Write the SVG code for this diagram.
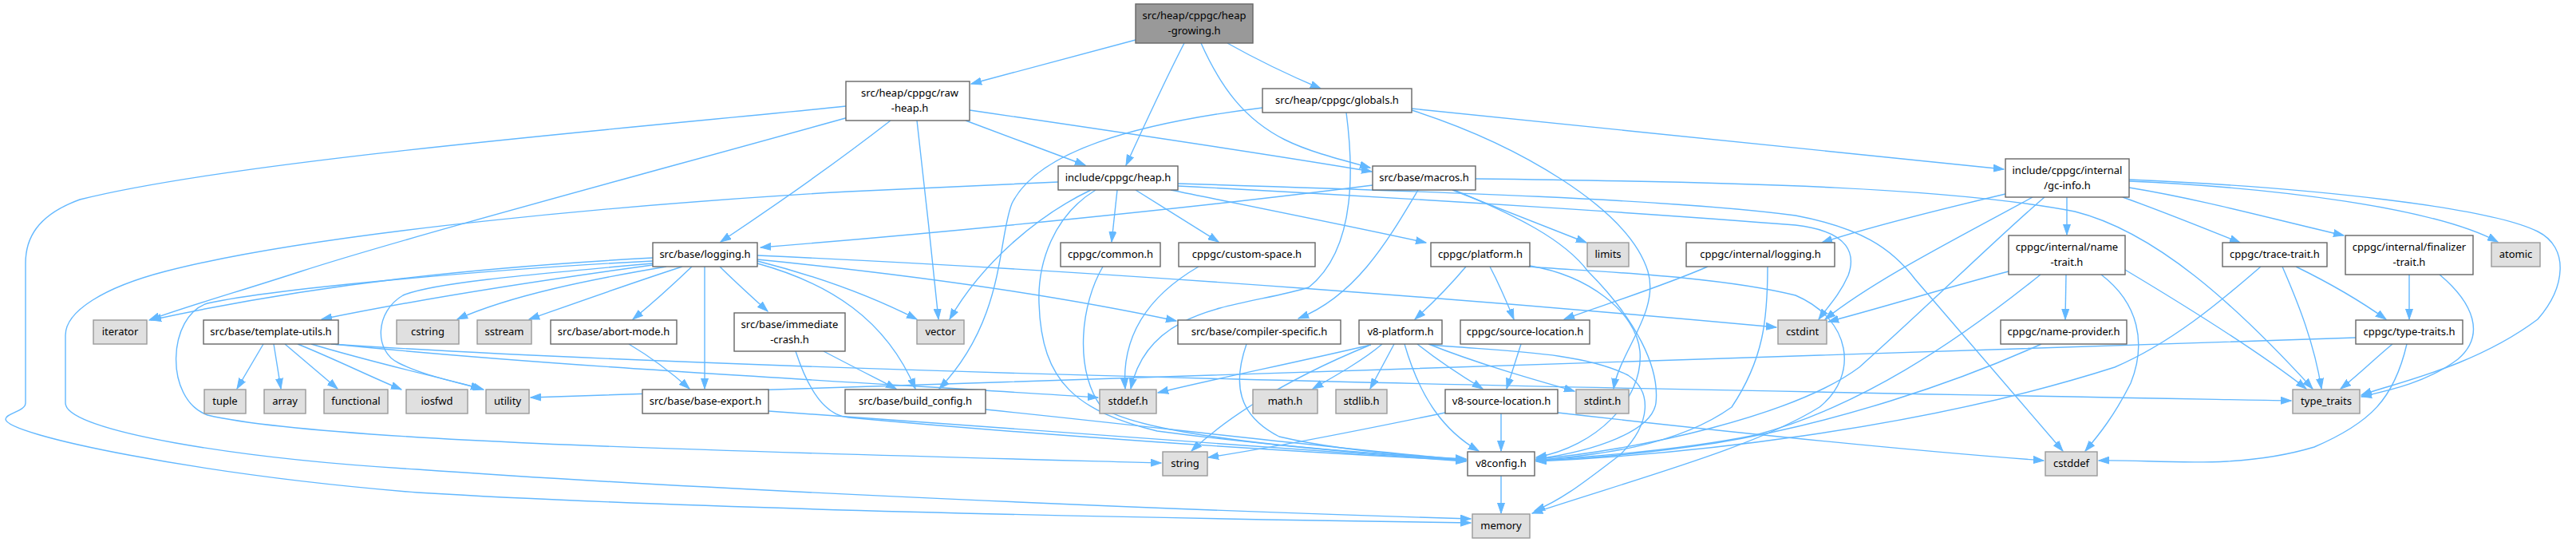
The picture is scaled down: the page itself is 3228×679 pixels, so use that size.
<svg xmlns="http://www.w3.org/2000/svg" width="3228" height="679" viewBox="0 0 3228 679">
<style>
rect{stroke-width:1.4}
.w{fill:#ffffff;stroke:#666666}
.g{fill:#e0e0e0;stroke:#999999}
.r{fill:#999999;stroke:#666666}
text{font-family:"Noto Sans","DejaVu Sans",sans-serif;font-size:13px;fill:#000000;text-anchor:middle}
#edges path{fill:none;stroke:#63b8ff;stroke-width:1.4;marker-end:url(#arr)}
</style>
<defs>
<marker id="arr" viewBox="0 0 14 10" refX="13" refY="5" markerWidth="14" markerHeight="10" orient="auto" markerUnits="userSpaceOnUse"><path d="M0,0.5 L13,5 L0,9.5 Z" fill="#63b8ff" stroke="#63b8ff" stroke-width="1"/></marker>
</defs>
<rect width="3228" height="679" fill="#ffffff"/>
<g id="edges">
<path d="M1423,50 C1350,70 1280,88 1217,105"/>
<path d="M1484,54 C1460,100 1435,155 1411,207"/>
<path d="M1505,54 C1530,110 1560,150 1610,175 C1640,190 1680,200 1717,210"/>
<path d="M1538,54 C1570,72 1615,94 1655,111"/>
<path d="M1060,133 C800,160 300,200 100,250 C45,270 32,300 32,330 L32,505 C32,515 7,518 7,525 C7,545 250,595 523,617 C900,640 1500,650 1843,655"/>
<path d="M1063,147 C800,220 500,300 377,340 C300,365 230,385 187,401"/>
<path d="M1149,151 C1158,230 1168,320 1176,400"/>
<path d="M1210,151 C1260,170 1310,188 1360,207"/>
<path d="M1116,151 C1040,210 960,265 903,303"/>
<path d="M1215,138 C1400,165 1600,195 1719,215"/>
<path d="M1769,136 L2511,212"/>
<path d="M1769,138 C1900,180 2040,260 2065,340 C2080,390 2030,440 2022,487"/>
<path d="M1582,135 C1420,155 1300,190 1268,255 C1250,300 1260,400 1177,487"/>
<path d="M1687,141 C1700,240 1690,320 1640,360 C1560,385 1440,380 1417,487"/>
<path d="M1400,238 L1393,303"/>
<path d="M1423,238 L1527,303"/>
<path d="M1467,238 C1600,265 1700,285 1787,304"/>
<path d="M1367,238 C1300,270 1230,330 1190,400"/>
<path d="M1373,238 C1320,270 1300,330 1302,380 C1305,480 1350,515 1450,540 C1600,560 1750,570 1837,577"/>
<path d="M1326,228 L1063,240 C800,255 400,290 207,340 C130,360 82,390 82,420 L82,505 C82,540 300,575 523,588 C900,615 1500,640 1843,650"/>
<path d="M1476,230 C1800,240 2100,250 2250,270 C2330,285 2370,310 2400,350 L2585,565"/>
<path d="M1476,233 C1800,250 2100,270 2250,282 C2320,290 2325,320 2316,345 C2305,370 2290,385 2279,400"/>
<path d="M1720,232 C1500,260 1200,290 953,310"/>
<path d="M1777,238 C1740,300 1700,370 1627,399"/>
<path d="M1820,238 C1880,262 1940,285 1988,304"/>
<path d="M1822,238 C1900,270 1960,300 1990,340 C2050,400 2080,460 2075,505 C2070,540 2000,565 1925,575"/>
<path d="M1849,224 C2200,228 2450,236 2600,265 C2700,290 2800,380 2898,487"/>
<path d="M1837,334 C1815,360 1795,380 1773,400"/>
<path d="M1867,334 C1878,355 1888,378 1897,400"/>
<path d="M1917,333 C1990,345 2050,390 2055,440 C2060,500 2000,560 1925,573"/>
<path d="M1915,334 C1990,340 2150,345 2250,370 C2320,400 2330,470 2280,510 C2200,560 2050,600 1920,643"/>
<path d="M2140,334 C2080,360 2000,385 1960,400"/>
<path d="M2215,334 C2215,400 2210,450 2170,510 C2100,560 2000,570 1925,577"/>
<path d="M2668,227 C2850,235 3050,260 3130,303"/>
<path d="M2668,225 C2900,235 3120,260 3180,290 C3220,310 3215,360 3180,400 C3100,460 3000,480 2959,495"/>
<path d="M2668,235 C2760,250 2850,275 2937,295"/>
<path d="M2660,247 C2710,265 2760,285 2807,304"/>
<path d="M2590,247 L2590,294"/>
<path d="M2513,243 C2420,265 2340,285 2283,304"/>
<path d="M2547,247 C2450,300 2350,350 2287,400"/>
<path d="M2562,247 C2500,300 2420,380 2330,460 C2250,520 2050,565 1925,575"/>
<path d="M2589,344 L2588,400"/>
<path d="M2517,340 C2440,360 2360,385 2291,403"/>
<path d="M2633,344 C2680,380 2690,430 2670,480 C2650,520 2630,545 2613,565"/>
<path d="M2663,338 C2750,390 2830,440 2890,487"/>
<path d="M2557,344 C2450,430 2330,510 2200,545 C2100,565 2000,572 1925,576"/>
<path d="M2877,334 C2920,355 2955,375 2990,400"/>
<path d="M2860,334 C2880,380 2900,430 2909,487"/>
<path d="M2833,334 C2780,380 2720,430 2650,460 C2400,540 2100,570 1925,578"/>
<path d="M3019,344 L3019,400"/>
<path d="M3057,344 C3100,380 3115,420 3080,450 C3040,480 2990,490 2959,497"/>
<path d="M2998,431 C2975,450 2955,470 2933,487"/>
<path d="M3016,431 C3000,500 2970,530 2900,560 C2800,590 2700,575 2630,577"/>
<path d="M2952,423 C2500,440 1500,470 665,498"/>
<path d="M2558,431 C2450,480 2300,530 2150,555 C2050,570 1980,575 1925,577"/>
<path d="M1906,431 L1888,487"/>
<path d="M1732,431 C1710,450 1675,470 1645,487"/>
<path d="M1747,431 L1717,487"/>
<path d="M1718,432 C1620,455 1520,475 1451,492"/>
<path d="M1715,433 C1600,480 1530,530 1493,565"/>
<path d="M1760,431 C1780,500 1810,540 1853,565"/>
<path d="M1776,431 C1800,450 1830,470 1858,487"/>
<path d="M1790,431 C1850,455 1920,475 1973,490"/>
<path d="M1793,432 C1880,440 1980,440 2040,470 C2070,490 2070,530 2030,570 C1990,600 1960,625 1923,640"/>
<path d="M1881,518 L1881,565"/>
<path d="M1811,517 C1700,540 1600,560 1514,573"/>
<path d="M1952,517 C2200,545 2400,565 2561,577"/>
<path d="M1881,596 L1881,643"/>
<path d="M818,323 C600,335 400,355 189,401"/>
<path d="M818,332 C650,355 500,380 403,400"/>
<path d="M835,334 C740,350 640,370 573,400"/>
<path d="M855,334 C790,355 720,380 663,400"/>
<path d="M867,334 C845,355 820,378 793,400"/>
<path d="M902,334 C920,352 940,370 962,390"/>
<path d="M883,334 L883,487"/>
<path d="M949,330 C1040,355 1110,400 1147,487"/>
<path d="M949,327 C1020,345 1090,370 1149,400"/>
<path d="M949,325 C1100,340 1300,365 1474,402"/>
<path d="M949,320 C1400,340 1900,380 2226,410"/>
<path d="M818,327 C650,335 350,360 260,380 C210,395 205,500 260,520 C400,553 900,565 1455,580"/>
<path d="M818,330 C650,345 540,355 505,370 C470,390 468,440 500,455 C530,470 570,478 606,488"/>
<path d="M330,431 L297,487"/>
<path d="M343,431 L352,487"/>
<path d="M357,431 L423,487"/>
<path d="M373,431 C420,450 460,470 503,488"/>
<path d="M390,431 C470,455 540,470 603,487"/>
<path d="M417,431 C700,460 1100,480 1376,498"/>
<path d="M415,431 C1000,470 2200,490 2871,502"/>
<path d="M788,431 C820,450 845,470 864,487"/>
<path d="M1032,440 C1070,460 1100,475 1123,487"/>
<path d="M997,440 C1010,480 1030,520 1063,523 C1300,545 1600,565 1837,577"/>
<path d="M963,515 C1300,540 1600,560 1837,578"/>
<path d="M1235,513 C1450,535 1650,560 1837,576"/>
<path d="M1562,431 C1545,480 1550,520 1603,547 C1680,565 1780,572 1837,575"/>
<path d="M1382,334 C1355,380 1345,460 1380,510 C1430,545 1650,565 1837,576"/>
<path d="M1502,334 C1440,370 1405,420 1410,487"/>
</g>
<g id="n1"><rect class="r" x="1423" y="5" width="147" height="49"/><text x="1496.5" y="23.5">src/heap/cppgc/heap</text><text x="1496.5" y="42.5">-growing.h</text></g>
<g id="n2"><rect class="w" x="1060" y="102" width="155" height="49"/><text x="1140" y="120.5">src/heap/cppgc/raw</text><text x="1140" y="139.5">-heap.h</text></g>
<g id="n3"><rect class="w" x="1582" y="111" width="187" height="30"/><text x="1675.5" y="130">src/heap/cppgc/globals.h</text></g>
<g id="n4"><rect class="w" x="1326" y="208" width="150" height="30"/><text x="1401" y="227">include/cppgc/heap.h</text></g>
<g id="n5"><rect class="w" x="1720" y="208" width="129" height="30"/><text x="1784.5" y="227">src/base/macros.h</text></g>
<g id="n6"><rect class="w" x="2513" y="199" width="155" height="48"/><text x="2590.5" y="217.5">include/cppgc/internal</text><text x="2590.5" y="236.5">/gc-info.h</text></g>
<g id="n7"><rect class="w" x="818" y="304" width="131" height="30"/><text x="883.5" y="323">src/base/logging.h</text></g>
<g id="n8"><rect class="w" x="1329" y="304" width="125" height="30"/><text x="1391.5" y="323">cppgc/common.h</text></g>
<g id="n9"><rect class="w" x="1477" y="304" width="171" height="30"/><text x="1562.5" y="323">cppgc/custom-space.h</text></g>
<g id="n10"><rect class="w" x="1793" y="304" width="124" height="30"/><text x="1855" y="323">cppgc/platform.h</text></g>
<g id="n11"><rect class="g" x="1989" y="304" width="52" height="30"/><text x="2015" y="323">limits</text></g>
<g id="n12"><rect class="w" x="2113" y="304" width="186" height="30"/><text x="2206" y="323">cppgc/internal/logging.h</text></g>
<g id="n13"><rect class="w" x="2517" y="295" width="146" height="49"/><text x="2590" y="313.5">cppgc/internal/name</text><text x="2590" y="332.5">-trait.h</text></g>
<g id="n14"><rect class="w" x="2785" y="304" width="131" height="30"/><text x="2850.5" y="323">cppgc/trace-trait.h</text></g>
<g id="n15"><rect class="w" x="2939" y="295" width="160" height="49"/><text x="3019" y="313.5">cppgc/internal/finalizer</text><text x="3019" y="332.5">-trait.h</text></g>
<g id="n16"><rect class="g" x="3122" y="304" width="61" height="30"/><text x="3152.5" y="323">atomic</text></g>
<g id="n17"><rect class="g" x="117" y="401" width="67" height="30"/><text x="150.5" y="420">iterator</text></g>
<g id="n18"><rect class="w" x="255" y="401" width="169" height="30"/><text x="339.5" y="420">src/base/template-utils.h</text></g>
<g id="n19"><rect class="g" x="497" y="401" width="78" height="30"/><text x="536" y="420">cstring</text></g>
<g id="n20"><rect class="g" x="598" y="401" width="68" height="30"/><text x="632" y="420">sstream</text></g>
<g id="n21"><rect class="w" x="690" y="401" width="158" height="30"/><text x="769" y="420">src/base/abort-mode.h</text></g>
<g id="n22"><rect class="w" x="920" y="392" width="139" height="48"/><text x="989.5" y="410.5">src/base/immediate</text><text x="989.5" y="429.5">-crash.h</text></g>
<g id="n23"><rect class="g" x="1149" y="401" width="59" height="30"/><text x="1178.5" y="420">vector</text></g>
<g id="n24"><rect class="w" x="1476" y="401" width="204" height="30"/><text x="1578" y="420">src/base/compiler-specific.h</text></g>
<g id="n25"><rect class="w" x="1703" y="401" width="104" height="30"/><text x="1755" y="420">v8-platform.h</text></g>
<g id="n26"><rect class="w" x="1830" y="401" width="162" height="30"/><text x="1911" y="420">cppgc/source-location.h</text></g>
<g id="n27"><rect class="g" x="2228" y="401" width="61" height="30"/><text x="2258.5" y="420">cstdint</text></g>
<g id="n28"><rect class="w" x="2507" y="401" width="158" height="30"/><text x="2586" y="420">cppgc/name-provider.h</text></g>
<g id="n29"><rect class="w" x="2952" y="401" width="134" height="30"/><text x="3019" y="420">cppgc/type-traits.h</text></g>
<g id="n30"><rect class="g" x="256" y="488" width="52" height="30"/><text x="282" y="507">tuple</text></g>
<g id="n31"><rect class="g" x="331" y="488" width="52" height="30"/><text x="357" y="507">array</text></g>
<g id="n32"><rect class="g" x="406" y="488" width="80" height="30"/><text x="446" y="507">functional</text></g>
<g id="n33"><rect class="g" x="509" y="488" width="77" height="30"/><text x="547.5" y="507">iosfwd</text></g>
<g id="n34"><rect class="g" x="609" y="488" width="54" height="30"/><text x="636" y="507">utility</text></g>
<g id="n35"><rect class="w" x="805" y="488" width="158" height="30"/><text x="884" y="507">src/base/base-export.h</text></g>
<g id="n36"><rect class="w" x="1059" y="488" width="176" height="30"/><text x="1147" y="507">src/base/build_config.h</text></g>
<g id="n37"><rect class="g" x="1378" y="488" width="71" height="30"/><text x="1413.5" y="507">stddef.h</text></g>
<g id="n38"><rect class="g" x="1570" y="488" width="81" height="30"/><text x="1610.5" y="507">math.h</text></g>
<g id="n39"><rect class="g" x="1674" y="488" width="64" height="30"/><text x="1706" y="507">stdlib.h</text></g>
<g id="n40"><rect class="w" x="1811" y="488" width="141" height="30"/><text x="1881.5" y="507">v8-source-location.h</text></g>
<g id="n41"><rect class="g" x="1975" y="488" width="66" height="30"/><text x="2008" y="507">stdint.h</text></g>
<g id="n42"><rect class="g" x="2873" y="488" width="84" height="30"/><text x="2915" y="507">type_traits</text></g>
<g id="n43"><rect class="g" x="1457" y="566" width="56" height="30"/><text x="1485" y="585">string</text></g>
<g id="n44"><rect class="w" x="1839" y="566" width="84" height="30"/><text x="1881" y="585">v8config.h</text></g>
<g id="n45"><rect class="g" x="2563" y="566" width="65" height="30"/><text x="2595.5" y="585">cstddef</text></g>
<g id="n46"><rect class="g" x="1845" y="644" width="72" height="30"/><text x="1881" y="663">memory</text></g>
</svg>
